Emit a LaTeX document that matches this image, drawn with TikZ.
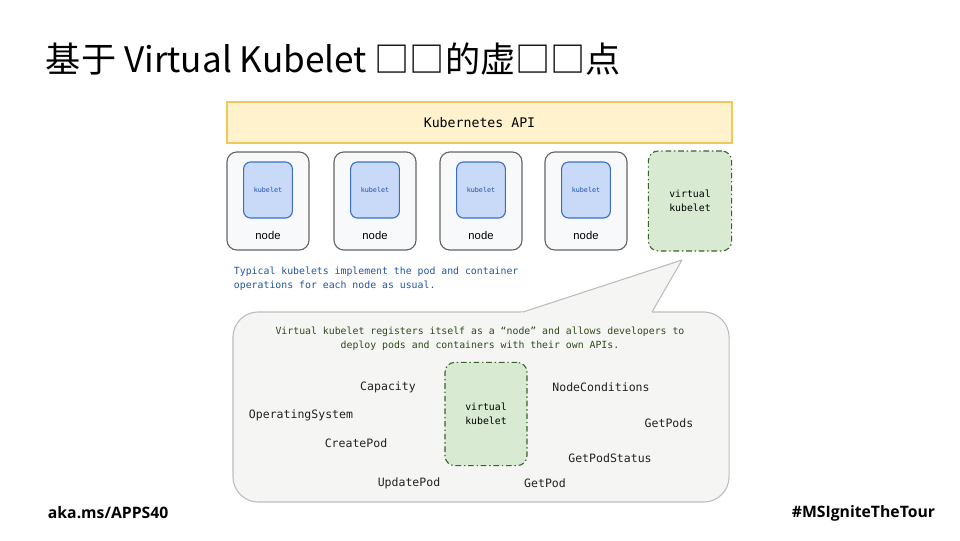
\documentclass[tikz,border=0pt]{standalone}
\usepackage{fontspec}
\setmainfont{Liberation Sans}
\setmonofont{DejaVu Sans Mono}
\newfontfamily\cjkfont{Noto Sans CJK SC}
\newfontfamily\footfont{Open Sans}
\usetikzlibrary{positioning}
\definecolor{apiFill}{RGB}{255, 242, 204}
\definecolor{apiLine}{RGB}{241, 200, 90}
\definecolor{nodeFill}{RGB}{248, 249, 250}
\definecolor{nodeLine}{RGB}{100, 100, 100}
\definecolor{kubeFill}{RGB}{201, 218, 248}
\definecolor{kubeLine}{RGB}{60, 110, 200}
\definecolor{kubeText}{RGB}{30, 80, 170}
\definecolor{vkFill}{RGB}{217, 234, 211}
\definecolor{vkLine}{RGB}{56, 100, 40}
\definecolor{bubFill}{RGB}{245, 246, 243}
\definecolor{bubLine}{RGB}{190, 190, 190}
\definecolor{bubText}{RGB}{45, 75, 25}
\definecolor{noteText}{RGB}{35, 85, 160}
\definecolor{opText}{RGB}{32, 33, 36}

\begin{document}
\begin{tikzpicture}[x=0.025cm, y=-0.025cm,
  nodebox/.style={draw=nodeLine, fill=nodeFill, line width=0.8pt, rounded corners=7pt,
    minimum width=2.05cm, minimum height=2.45cm},
  kubeletbox/.style={draw=kubeLine, fill=kubeFill, line width=0.8pt, rounded corners=5pt,
    minimum width=1.22cm, minimum height=1.4cm, text=kubeText,
    font=\ttfamily\fontsize{4.8}{6}\selectfont},
  vkbox/.style={draw=vkLine, fill=vkFill, line width=0.8pt, rounded corners=7pt,
    dash pattern=on 4pt off 2pt on 1pt off 2pt,
    minimum width=2.08cm, minimum height=2.5cm, align=center,
    font=\ttfamily\fontsize{7}{10}\selectfont, text=black},
  oplabel/.style={font=\ttfamily\fontsize{8.2}{10}\selectfont, text=opText}]
  \useasboundingbox (0,0) rectangle (960,540);

  % Title
  \node[anchor=west, font=\cjkfont\fontsize{25}{29}\selectfont] (title) at (41,59)
    {基于 Virtual Kubelet □□的虚□□点};

  % API bar
  \node[draw=apiLine, fill=apiFill, line width=1pt, minimum width=12.625cm, minimum height=1.025cm,
    font=\ttfamily\fontsize{9.4}{11}\selectfont] (api) at (479.5,122.5) {Kubernetes API};

  % Regular nodes with kubelets
  \foreach \i/\x in {1/268, 2/375, 3/481, 4/586} {
    \node[nodebox] (n\i) at (\x,201) {};
    \node[kubeletbox] (k\i) at (\x,190) {kubelet};
    \node[font=\fontsize{8}{9}\selectfont] (nl\i) at (\x,235) {node};
  }

  % Virtual kubelet node
  \node[vkbox] (vk) at (690,201) {virtual\\kubelet};

  % Note for regular kubelets
  \node[anchor=north west, align=left, text=noteText,
    font=\ttfamily\fontsize{7}{10}\selectfont] (note) at (229,262)
    {Typical kubelets implement the pod and container\\operations for each node as usual.};

  % Speech bubble
  \node[draw=bubLine, fill=bubFill, line width=0.8pt, rounded corners=18pt,
    minimum width=12.4cm, minimum height=4.75cm] (bubble) at (481,407) {};
  \coordinate (tailL) at (523,312);
  \coordinate (tailR) at (652,312);
  \coordinate (tip) at (682,260);
  \fill[bubFill] (517,314) -- (tip) -- (651,314) -- cycle;
  \draw[bubLine, line width=0.8pt, line join=round] (tailL) -- (tip) -- (tailR);

  \node[align=center, text=bubText, font=\ttfamily\fontsize{7}{10}\selectfont] (explain) at (480,339)
    {Virtual kubelet registers itself as a “node” and allows developers to\\deploy pods and containers with their own APIs.};

  \node[vkbox, minimum width=2.05cm, minimum height=2.58cm] (vk2) at (486,414) {virtual\\kubelet};

  % Operations
  \node[oplabel] (capacity) at (388,387) {Capacity};
  \node[oplabel] (nodecond) at (601,387) {NodeConditions};
  \node[oplabel] (opsys) at (301,415) {OperatingSystem};
  \node[oplabel] (getpods) at (669,423) {GetPods};
  \node[oplabel] (create) at (356,443) {CreatePod};
  \node[oplabel] (status) at (610,458) {GetPodStatus};
  \node[oplabel] (update) at (409,483) {UpdatePod};
  \node[oplabel] (getpod) at (545,483) {GetPod};

  % Footer
  \node[anchor=west, font=\footfont\bfseries\fontsize{11.2}{13}\selectfont] (aka) at (43,513) {aka.ms/APPS40};
  \node[anchor=east, font=\footfont\bfseries\fontsize{11.2}{13}\selectfont] (tag) at (940,513) {\#MSIgniteTheTour};
\end{tikzpicture}
\end{document}
